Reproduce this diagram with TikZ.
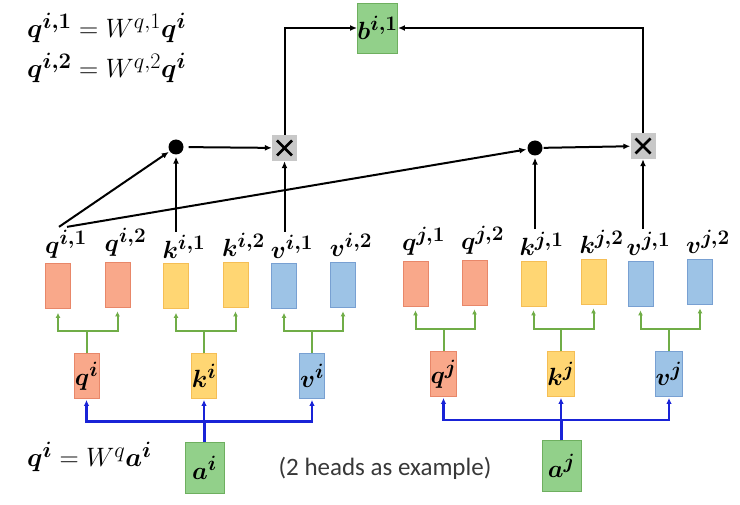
\RequirePackage{fix-cm}
\documentclass[tikz,border=0pt]{standalone}
\usepackage{amsmath}
\usepackage{bm}
\usepackage{fontspec}
\newfontfamily\headsfont{Carlito}
\usetikzlibrary{arrows.meta,positioning}

\definecolor{qfill}{RGB}{249,168,138}
\definecolor{qline}{RGB}{232,135,105}
\definecolor{kfill}{RGB}{255,214,115}
\definecolor{kline}{RGB}{245,190,85}
\definecolor{vfill}{RGB}{157,195,230}
\definecolor{vline}{RGB}{120,160,210}
\definecolor{afill}{RGB}{146,208,138}
\definecolor{aline}{RGB}{110,175,95}
\definecolor{mulgray}{RGB}{200,200,200}
\definecolor{splitgreen}{RGB}{112,173,71}
\definecolor{feedblue}{RGB}{25,35,215}

\newcommand{\mathsize}{\fontsize{24.88}{30}\selectfont}

\tikzset{
  cell/.style={minimum width=25pt, minimum height=45pt, inner sep=0pt, line width=0.8pt, font=\mathsize},
  qcol/.style={cell, fill=qfill, draw=qline},
  kcol/.style={cell, fill=kfill, draw=kline},
  vcol/.style={cell, fill=vfill, draw=vline},
  inbox/.style={minimum width=39pt, minimum height=51pt, inner sep=0pt, line width=0.8pt, fill=afill, draw=aline, font=\mathsize},
  lbl/.style={font=\mathsize, inner sep=1pt, outer ysep=2pt, xshift=8pt},
  eq/.style={font=\mathsize, inner sep=0pt, anchor=base west, scale=1.07, transform shape},
  dotnode/.style={circle, fill=black, minimum size=15pt, inner sep=0pt},
  mulbox/.style={fill=mulgray, minimum width=25pt, minimum height=26pt, inner sep=0pt,
    path picture={
      \draw[line width=2.6pt] ([shift={(-7.5pt,-7.5pt)}]path picture bounding box.center) -- ([shift={(7.5pt,7.5pt)}]path picture bounding box.center);
      \draw[line width=2.6pt] ([shift={(-7.5pt,7.5pt)}]path picture bounding box.center) -- ([shift={(7.5pt,-7.5pt)}]path picture bounding box.center);
    }},
  arr/.style={-{Latex[length=7pt,width=6pt]}, line width=2pt},
  split/.style={-{Latex[length=5pt,width=5pt]}, line width=2pt, draw=splitgreen, shorten >=4pt},
  feed/.style={-{Latex[length=6pt,width=5.5pt]}, line width=2.4pt, draw=feedblue, shorten >=1pt}
}

\begin{document}
\begin{tikzpicture}[x=1pt, y=-1pt]
   \useasboundingbox (0, 0) rectangle (740, 505);

   \node[eq] (eqa) at (27, 38) {$\bm{q^{i,1}} = W^{q,1}\bm{q^{i}}$};
   \node[eq] (eqb) at (27, 78) {$\bm{q^{i,2}} = W^{q,2}\bm{q^{i}}$};
   \node[eq] (eqc) at (27, 467) {$\bm{q^{i}} = W^{q}\bm{a^{i}}$};
   \node[font=\headsfont\fontsize{25}{30}\selectfont, text=black!78] (note) at (385, 468) {(2 heads as example)};

   \node[qcol] (qi1) at (58, 286) {};
   \node[qcol] (qi2) at (117.5, 284.5) {};
   \node[kcol] (ki1) at (176, 286) {};
   \node[kcol] (ki2) at (235.5, 284.5) {};
   \node[vcol] (vi1) at (284, 286) {};
   \node[vcol] (vi2) at (343, 284.5) {};
   \node[lbl, above=2pt of qi1] (lqi1) {$\bm{q^{i,1}}$};
   \node[lbl, above=2pt of qi2] (lqi2) {$\bm{q^{i,2}}$};
   \node[lbl, above=2pt of ki1] (lki1) {$\bm{k^{i,1}}$};
   \node[lbl, above=2pt of ki2] (lki2) {$\bm{k^{i,2}}$};
   \node[lbl, above=2pt of vi1] (lvi1) {$\bm{v^{i,1}}$};
   \node[lbl, above=2pt of vi2] (lvi2) {$\bm{v^{i,2}}$};

   \node[qcol] (qj1) at (415.5, 283.5) {};
   \node[qcol] (qj2) at (474.5, 282.5) {};
   \node[kcol] (kj1) at (533.5, 283.5) {};
   \node[kcol] (kj2) at (593.5, 281.5) {};
   \node[vcol] (vj1) at (640.5, 283.5) {};
   \node[vcol] (vj2) at (700, 281.5) {};
   \node[lbl, above=2pt of qj1] (lqj1) {$\bm{q^{j,1}}$};
   \node[lbl, above=2pt of qj2] (lqj2) {$\bm{q^{j,2}}$};
   \node[lbl, above=2pt of kj1] (lkj1) {$\bm{k^{j,1}}$};
   \node[lbl, above=2pt of kj2] (lkj2) {$\bm{k^{j,2}}$};
   \node[lbl, above=2pt of vj1] (lvj1) {$\bm{v^{j,1}}$};
   \node[lbl, above=2pt of vj2] (lvj2) {$\bm{v^{j,2}}$};

   \node[qcol] (qi) at (86.5, 376) {$\bm{q^{i}}$};
   \node[kcol] (ki) at (204, 376) {$\bm{k^{i}}$};
   \node[vcol] (vi) at (312, 376) {$\bm{v^{i}}$};
   \node[qcol] (qj) at (443.5, 374) {$\bm{q^{j}}$};
   \node[kcol] (kj) at (561, 374) {$\bm{k^{j}}$};
   \node[vcol] (vj) at (669, 374) {$\bm{v^{j}}$};

   \node[inbox] (ai) at (204.5, 467.5) {$\bm{a^{i}}$};
   \node[inbox] (aj) at (561.5, 466) {$\bm{a^{j}}$};
   \node[inbox, minimum height=50pt] (bi1) at (377.5, 28) {$\bm{b^{i,1}}$};

   \node[dotnode] (dot1) at (176, 147) {};
   \node[dotnode] (dot2) at (535, 148) {};
   \node[mulbox] (mul1) at (284.5, 148) {};
   \node[mulbox] (mul2) at (643, 146) {};

   \draw[feed] (ai.north) -- ++(0, -20) -| (qi.south);
   \draw[feed] (ai.north) -- ++(0, -20) -| (ki.south);
   \draw[feed] (ai.north) -- ++(0, -20) -| (vi.south);
   \draw[feed] (aj.north) -- ++(0, -20) -| (qj.south);
   \draw[feed] (aj.north) -- ++(0, -20) -| (kj.south);
   \draw[feed] (aj.north) -- ++(0, -20) -| (vj.south);

   \draw[split] (qi.north) -- ++(0, -22) -| (qi1.south);
   \draw[split] (qi.north) -- ++(0, -22) -| (qi2.south);
   \draw[split] (ki.north) -- ++(0, -22) -| (ki1.south);
   \draw[split] (ki.north) -- ++(0, -22) -| (ki2.south);
   \draw[split] (vi.north) -- ++(0, -22) -| (vi1.south);
   \draw[split] (vi.north) -- ++(0, -22) -| (vi2.south);
   \draw[split] (qj.north) -- ++(0, -22) -| (qj1.south);
   \draw[split] (qj.north) -- ++(0, -22) -| (qj2.south);
   \draw[split] (kj.north) -- ++(0, -22) -| (kj1.south);
   \draw[split] (kj.north) -- ++(0, -22) -| (kj2.south);
   \draw[split] (vj.north) -- ++(0, -22) -| (vj1.south);
   \draw[split] (vj.north) -- ++(0, -22) -| (vj2.south);

   \draw[arr][shorten >=1pt] ([xshift=-7pt]lqi1.north) -- (dot1);
   \draw[arr][shorten >=1pt] ([xshift=1pt]lqi1.north) -- (dot2);
   \draw[arr][shorten >=2pt] (lki1.north -| dot1) -- (dot1);
   \draw[arr][shorten >=2pt] (lkj1.north -| dot2) -- (dot2);
   \draw[arr] (lvi1.north -| mul1) -- (mul1);
   \draw[arr] (lvj1.north -| mul2) -- (mul2);
   \draw[arr][shorten <=5pt] (dot1) -- (mul1);
   \draw[arr][shorten <=1pt] (dot2) -- (mul2);
   \draw[arr] (mul1.north) |- (bi1.west);
   \draw[arr] (mul2.north) |- (bi1.east);
\end{tikzpicture}
\end{document}
